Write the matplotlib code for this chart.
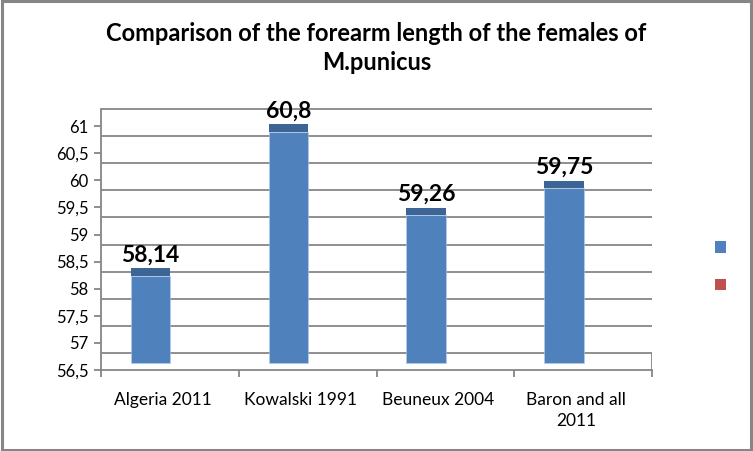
import numpy as np
import matplotlib as mpl
import matplotlib.pyplot as plt
from matplotlib.transforms import ScaledTranslation

# Data
categories = ['Algeria 2011', 'Kowalski 1991', 'Beuneux 2004', 'Baron and all\n2011']
forearm_length = np.array([58.14, 60.8, 59.26, 59.75])
value_labels = ['58,14', '60,8', '59,26', '59,75']
y_ticks = [56.5, 57, 57.5, 58, 58.5, 59, 59.5, 60, 60.5, 61]
y_tick_labels = ['56,5', '57', '57,5', '58', '58,5', '59', '59,5', '60', '60,5', '61']
grid_values = [57, 57.5, 58, 58.5, 59, 59.5, 60, 60.5, 61, 61.5]

plt.rcParams['font.family'] = ['Lato', 'DejaVu Sans']

W, H = 753, 451
fig = plt.figure(figsize=(W / 100, H / 100), dpi=100)

# outer frame of the chart area
fig.patches.append(mpl.patches.Rectangle((0.002, 0.003), 0.996, 0.994, transform=fig.transFigure,
                                         fill=False, edgecolor='#868686', linewidth=2.2))

ax = fig.add_axes([101 / W, 1 - 370 / H, 551 / W, 271 / H])
ax.set_xlim(-0.5, 3.5)
ax.set_ylim(56.5, 61.5)
ax.patch.set_visible(False)

# pseudo 3D: back wall is shifted down by ~10 px compared to the front ticks
px_per_unit = 271 / 5.0
wall_shift = 10 / px_per_unit
back = ax.transData + ScaledTranslation(0, -0.10, fig.dpi_scale_trans)
ax.hlines(grid_values, -0.5, 3.5, colors='#868686', linewidth=1.3, transform=back, zorder=1)
ax.vlines(3.5, 56.5, 57 - wall_shift, colors='#868686', linewidth=1.3, zorder=1)

# bars (front face + darker top face)
x = np.arange(len(categories))
bar_x = x - 0.14
bar_w = 0.287
base = 56.63
lift = 0.10
cap = 0.135
ax.bar(bar_x, forearm_length + lift - base, bottom=base, width=bar_w,
       color='#4F81BD', edgecolor='#B9CDE5', linewidth=0.4, zorder=3)
ax.bar(bar_x, cap, bottom=forearm_length + lift, width=bar_w,
       color='#3C6494', linewidth=0, zorder=3)

for bx, v, lab in zip(bar_x, forearm_length, value_labels):
    ax.annotate(lab, (bx, v + lift + cap), xytext=(0, 5), textcoords='offset points',
                ha='center', va='baseline', fontsize=16.5, fontweight='bold', color='black', zorder=4)

# axes styling
for side in ['top', 'right']:
    ax.spines[side].set_visible(False)
ax.spines['left'].set_bounds(56.5, 61.5 - wall_shift)
for side in ['left', 'bottom']:
    ax.spines[side].set_color('#868686')
    ax.spines[side].set_linewidth(1.3)

ax.set_yticks(y_ticks, labels=y_tick_labels)
ax.tick_params(axis='y', length=5, width=1.3, color='#868686', labelsize=12, pad=4)

ax.set_xticks(np.arange(-0.5, 4, 1.0))
ax.set_xticklabels([])
ax.tick_params(axis='x', which='major', length=5, width=1.3, color='#868686')
ax.set_xticks(x - 0.05, minor=True)
ax.set_xticklabels(categories, minor=True, fontsize=12.5)
ax.tick_params(axis='x', which='minor', length=0, pad=16)
for t in ax.get_xticklabels(minor=True):
    t.set_linespacing(1.35)

fig.text(0.5, 1 - 41 / H, 'Comparison of the forearm length of the females of', ha='center', va='baseline',
         fontsize=17, fontweight='bold')
fig.text(0.5, 1 - 70 / H, 'M.punicus', ha='center', va='baseline', fontsize=17, fontweight='bold')

# legend: two markers with no text
fig.patches.append(mpl.patches.Rectangle((715 / W, 1 - 253 / H), 11 / W, 12 / H, transform=fig.transFigure,
                                         facecolor='#4F81BD', edgecolor='none'))
fig.patches.append(mpl.patches.Rectangle((715 / W, 1 - 290 / H), 11 / W, 11 / H, transform=fig.transFigure,
                                         facecolor='#C0504D', edgecolor='none'))

plt.savefig('out.png', dpi=100)
